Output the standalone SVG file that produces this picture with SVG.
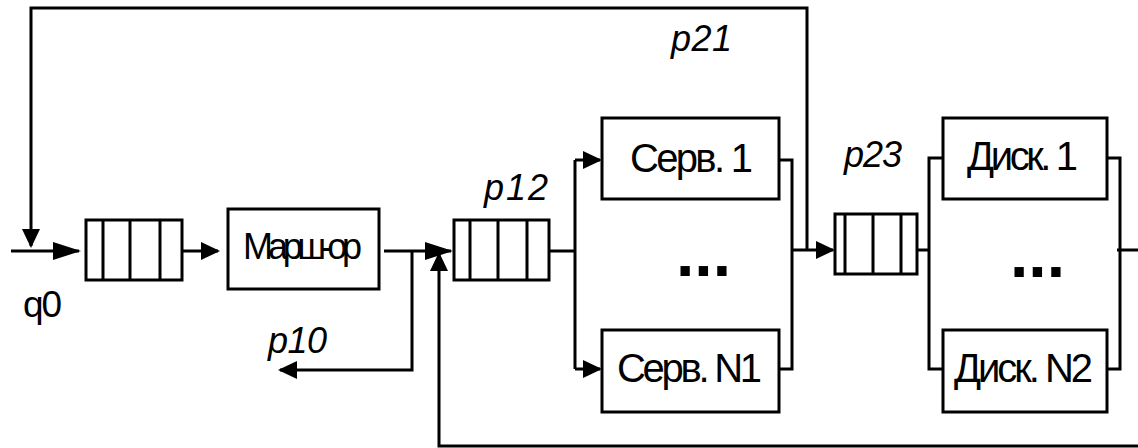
<svg xmlns="http://www.w3.org/2000/svg" width="1138" height="448" viewBox="0 0 1138 448">
<style>
.box{fill:#fff;stroke:#000;stroke-width:3}
.q{fill:#fff;stroke:#000;stroke-width:3}
.ln{fill:none;stroke:#000;stroke-width:3}
.t{font-family:"Liberation Sans",Arial,sans-serif;fill:#000}
.lbl{font-family:"Liberation Sans",Arial,sans-serif;font-style:italic;font-size:36px;fill:#000}
.dots{font-family:"Liberation Sans",Arial,sans-serif;font-weight:bold;font-size:66px;fill:#000}
</style>
<defs>
<marker id="big" viewBox="0 0 28 18" refX="26" refY="9" markerWidth="28" markerHeight="18" markerUnits="userSpaceOnUse" orient="auto"><path d="M0,0 L28,9 L0,18 Z" fill="#000"/></marker>
<marker id="sm" viewBox="0 0 19 18" refX="17" refY="9" markerWidth="19" markerHeight="18" markerUnits="userSpaceOnUse" orient="auto"><path d="M0,0 L19,9 L0,18 Z" fill="#000"/></marker>
</defs>
<g id="connectors">
<path class="ln" d="M11,251 H79" marker-end="url(#big)"/>
<path class="ln" d="M807,250 V8 H31 V246" marker-end="url(#sm)"/>
<path class="ln" d="M182,251 H218" marker-end="url(#sm)"/>
<path class="ln" d="M384,251 H451" marker-end="url(#big)"/>
<path class="ln" d="M412,251 V370 H280" marker-end="url(#sm)"/>
<path class="ln" d="M1138,446 H439 V254" marker-end="url(#sm)"/>
<path class="ln" d="M549,251 H575"/>
<path class="ln" d="M575,160 V369"/>
<path class="ln" d="M575,160 H600" marker-end="url(#sm)"/>
<path class="ln" d="M575,369 H600" marker-end="url(#sm)"/>
<path class="ln" d="M779,160 H792 V369 H779"/>
<path class="ln" d="M792,250 H833" marker-end="url(#sm)"/>
<path class="ln" d="M917,250 H929"/>
<path class="ln" d="M943,158 H929 V369 H943"/>
<path class="ln" d="M1107,158 H1120 V369 H1107"/>
<path class="ln" d="M1117,250 H1138"/>
</g>
<g id="queue1">
<rect class="q" x="86" y="220" width="96" height="60"/>
<path class="ln" d="M103,220 V280 M130,220 V280 M160,220 V280"/>
</g>
<g id="router">
<rect class="box" x="228" y="209" width="151" height="80"/>
<text class="t" x="243" y="259" font-size="36" textLength="119" lengthAdjust="spacing">Марш-ор</text>
</g>
<g id="queue2">
<rect class="q" x="454" y="220" width="95" height="60"/>
<path class="ln" d="M470,220 V280 M498,220 V280 M527,220 V280"/>
</g>
<g id="serv1">
<rect class="box" x="602" y="118" width="177" height="81"/>
<text class="t" x="630" y="172" font-size="40" textLength="123" lengthAdjust="spacing">Серв. 1</text>
</g>
<g id="servN1">
<rect class="box" x="602" y="330" width="177" height="82"/>
<text class="t" x="617" y="382" font-size="40" textLength="145" lengthAdjust="spacing">Серв. N1</text>
</g>
<g id="queue3">
<rect class="q" x="835" y="214" width="82" height="60"/>
<path class="ln" d="M845,214 V274 M873,214 V274 M901,214 V274"/>
</g>
<g id="disk1">
<rect class="box" x="943" y="118" width="164" height="81"/>
<text class="t" x="967" y="170" font-size="40" textLength="111" lengthAdjust="spacing">Диск. 1</text>
</g>
<g id="diskN2">
<rect class="box" x="943" y="330" width="164" height="82"/>
<text class="t" x="954" y="382" font-size="40" textLength="139" lengthAdjust="spacing">Диск. N2</text>
</g>
<g id="dots">
<text class="dots" x="676" y="276">...</text>
<text class="dots" x="1010" y="277">...</text>
</g>
<g id="labels">
<text class="t" x="23" y="317" font-size="37" textLength="39" lengthAdjust="spacing">q0</text>
<text class="lbl" x="484" y="200" textLength="64" lengthAdjust="spacing">p12</text>
<text class="lbl" x="268" y="353" textLength="59" lengthAdjust="spacing">p10</text>
<text class="lbl" x="671" y="51" textLength="61" lengthAdjust="spacing">p21</text>
<text class="lbl" x="844" y="167" textLength="58" lengthAdjust="spacing">p23</text>
</g>
</svg>
